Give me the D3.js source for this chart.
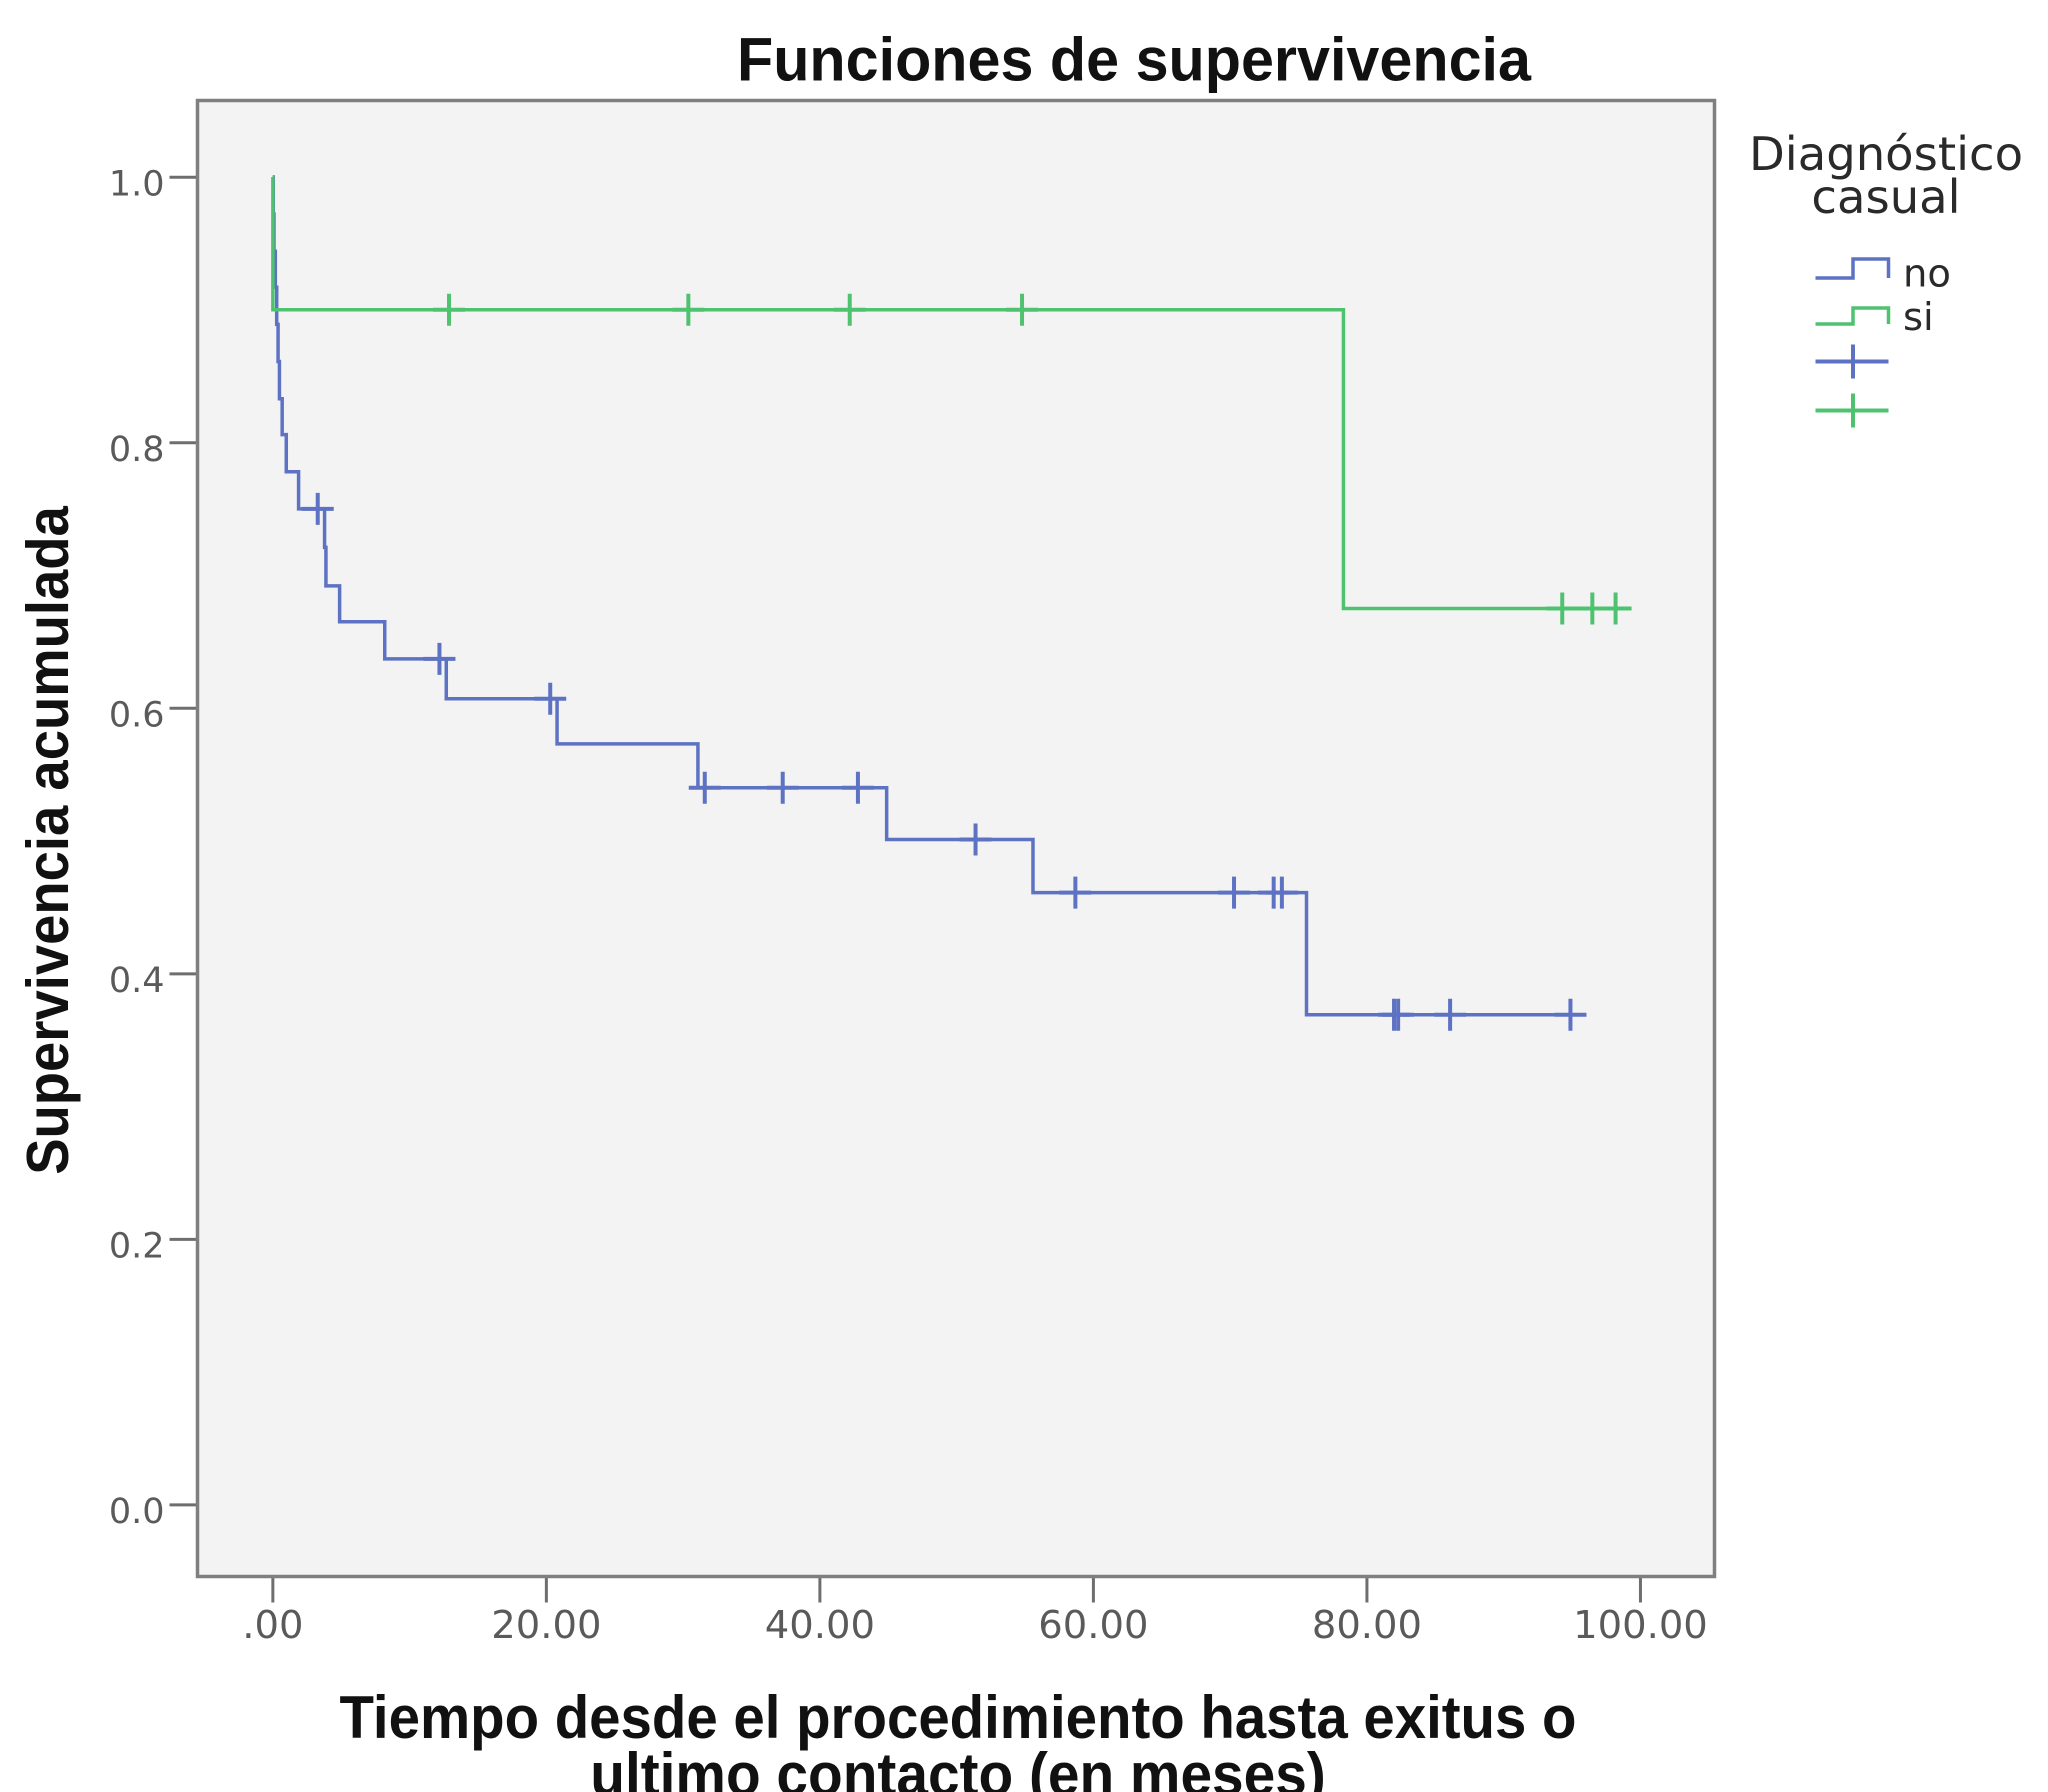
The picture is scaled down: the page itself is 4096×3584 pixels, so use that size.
<!DOCTYPE html>
<html><head><meta charset="utf-8">
<script src="https://cdn.jsdelivr.net/npm/d3@7"></script>
<style>html,body{margin:0;padding:0;background:#fff;} svg{display:block}</style>
</head><body>
<svg id="chart" width="4096" height="3584"></svg>
<script>
// ---------- data ----------
const groups = ["no", "si"];
const groupColors = ["#5d72c2", "#4fc26f"];
// group "no": event times and survival after each event
const noEventTimes = [0.05, 0.1, 0.2, 0.3, 0.4, 0.5, 0.7, 1.0, 1.9, 3.8, 3.9, 4.9, 8.2, 12.7, 20.8, 31.1, 44.9, 55.6, 75.6];
const noSurvival   = [0.972, 0.944, 0.917, 0.889, 0.861, 0.833, 0.806, 0.778, 0.750, 0.721, 0.692, 0.665, 0.637, 0.607, 0.573, 0.540, 0.501, 0.461, 0.369];
const noCensored   = [3.3, 12.2, 20.3, 31.6, 37.3, 42.8, 51.4, 58.7, 70.3, 73.2, 73.8, 82.0, 82.3, 86.1, 94.9];
const noEnd = 94.9;
// group "si"
const siEventTimes = [0.02, 78.3];
const siSurvival   = [0.900, 0.675];
const siCensored   = [12.9, 30.4, 42.2, 54.8, 94.3, 96.5, 98.2];
const siEnd = 98.2;

const xTicks = [0, 20, 40, 60, 80, 100];
const xTickLabels = [".00", "20.00", "40.00", "60.00", "80.00", "100.00"];
const yTicks = [0, 0.2, 0.4, 0.6, 0.8, 1.0];
const yTickLabels = ["0.0", "0.2", "0.4", "0.6", "0.8", "1.0"];

const titleText = "Funciones de supervivencia";
const xTitleLines = ["Tiempo desde el procedimiento hasta exitus o", "ultimo contacto (en meses)"];
const yTitleText = "Supervivencia acumulada";
const legendTitleLines = ["Diagnóstico", "casual"];

// ---------- layout ----------
const svg = d3.select("#chart");
const frame = {left: 395, right: 3429, top: 201, bottom: 3153};
const x = d3.scaleLinear().domain([0, 100]).range([545.2, 3280.4]);
const y = d3.scaleLinear().domain([0, 1]).range([3009.3, 354]);

const tickFont = "'DejaVu Sans', Verdana, sans-serif";
const titleFont = "'Liberation Sans', Arial, sans-serif";

svg.append("rect").attr("x", 0).attr("y", 0).attr("width", 4096).attr("height", 3584).attr("fill", "#fff");

// plot background
svg.append("rect")
  .attr("x", frame.left).attr("y", frame.top)
  .attr("width", frame.right - frame.left).attr("height", frame.bottom - frame.top)
  .attr("fill", "#f3f3f3");

// axes
const xAxis = d3.axisBottom(x).tickValues(xTicks)
  .tickFormat((d, i) => xTickLabels[i]).tickSize(52).tickPadding(16);
const gx = svg.append("g").attr("transform", `translate(0,${frame.bottom})`).call(xAxis);
gx.select(".domain").remove();
gx.selectAll(".tick line").attr("stroke", "#6e6e6e").attr("stroke-width", 6);
gx.selectAll(".tick text").attr("fill", "#5a5a5a")
  .style("font-family", tickFont).style("font-size", "77px");

const yAxis = d3.axisLeft(y).tickValues(yTicks)
  .tickFormat((d, i) => yTickLabels[i]).tickSize(56).tickPadding(10);
const gy = svg.append("g").attr("transform", `translate(${frame.left},0)`).call(yAxis);
gy.select(".domain").remove();
gy.selectAll(".tick line").attr("stroke", "#6e6e6e").attr("stroke-width", 6);
gy.selectAll(".tick text").attr("fill", "#5a5a5a").attr("dy", "0.52em")
  .style("font-family", tickFont).style("font-size", "70px");

// frame
svg.append("rect")
  .attr("x", frame.left).attr("y", frame.top)
  .attr("width", frame.right - frame.left).attr("height", frame.bottom - frame.top)
  .attr("fill", "none").attr("stroke", "#7f7f7f").attr("stroke-width", 7);

// survival curves
function curvePoints(times, surv, end) {
  const pts = [[0, 1]];
  times.forEach((t, i) => pts.push([t, surv[i]]));
  pts.push([end, surv[surv.length - 1]]);
  return pts;
}
function survAt(times, surv, t) {
  let s = 1;
  times.forEach((tt, i) => { if (tt <= t) s = surv[i]; });
  return s;
}
const series = [
  {name: groups[0], color: groupColors[0], times: noEventTimes, surv: noSurvival, cens: noCensored, end: noEnd},
  {name: groups[1], color: groupColors[1], times: siEventTimes, surv: siSurvival, cens: siCensored, end: siEnd}
];
const line = d3.line().x(d => x(d[0])).y(d => y(d[1])).curve(d3.curveStepAfter);
const arm = 32;
series.forEach(s => {
  svg.append("path")
    .attr("d", line(curvePoints(s.times, s.surv, s.end)))
    .attr("fill", "none").attr("stroke", s.color).attr("stroke-width", 7)
    .attr("stroke-linejoin", "miter");
  svg.append("g").selectAll("path").data(s.cens).join("path")
    .attr("d", t => {
      const cx = x(t), cy = y(survAt(s.times, s.surv, t));
      return `M${cx - arm},${cy}H${cx + arm}M${cx},${cy - arm}V${cy + arm}`;
    })
    .attr("stroke", s.color).attr("stroke-width", 8).attr("fill", "none");
});

// titles
svg.append("text").text(titleText)
  .attr("x", 2268).attr("y", 161).attr("text-anchor", "middle")
  .attr("textLength", 1588).attr("lengthAdjust", "spacingAndGlyphs")
  .style("font-family", titleFont).style("font-weight", "bold").style("font-size", "122px").attr("fill", "#111");

xTitleLines.forEach((t, i) => {
  svg.append("text").text(t)
    .attr("x", 1916).attr("y", 3476 + i * 114).attr("text-anchor", "middle")
    .attr("textLength", i === 0 ? 2474 : 1471).attr("lengthAdjust", "spacingAndGlyphs")
    .style("font-family", titleFont).style("font-weight", "bold").style("font-size", "120px").attr("fill", "#111");
});

svg.append("text").text(yTitleText)
  .attr("transform", "translate(136,1681) rotate(-90)").attr("text-anchor", "middle")
  .attr("textLength", 1337).attr("lengthAdjust", "spacingAndGlyphs")
  .style("font-family", titleFont).style("font-weight", "bold").style("font-size", "118px").attr("fill", "#111");

// legend
legendTitleLines.forEach((t, i) => {
  svg.append("text").text(t)
    .attr("x", 3772).attr("y", 340 + i * 86).attr("text-anchor", "middle")
    .style("font-family", tickFont).style("font-size", "93px").attr("fill", "#2a2a2a");
});
const lgX0 = 3631, lgX1 = 3777, lgXm = 3706;
const stepRows = [{low: 556, high: 518, label: groups[0], color: groupColors[0], ty: 573},
                  {low: 648, high: 616, label: groups[1], color: groupColors[1], ty: 660}];
stepRows.forEach(r => {
  svg.append("path")
    .attr("d", `M${lgX0},${r.low}H${lgXm}V${r.high}H${lgX1}V${r.low}`)
    .attr("fill", "none").attr("stroke", r.color).attr("stroke-width", 7);
  svg.append("text").text(r.label).attr("x", 3806).attr("y", r.ty)
    .style("font-family", tickFont).style("font-size", "77px").attr("fill", "#2a2a2a");
});
const plusRows = [{cy: 723, color: groupColors[0]}, {cy: 821, color: groupColors[1]}];
plusRows.forEach(r => {
  svg.append("path")
    .attr("d", `M${lgX0},${r.cy}H${lgX1}M${lgXm},${r.cy - 34}V${r.cy + 34}`)
    .attr("fill", "none").attr("stroke", r.color).attr("stroke-width", 8);
});
</script>
</body></html>
